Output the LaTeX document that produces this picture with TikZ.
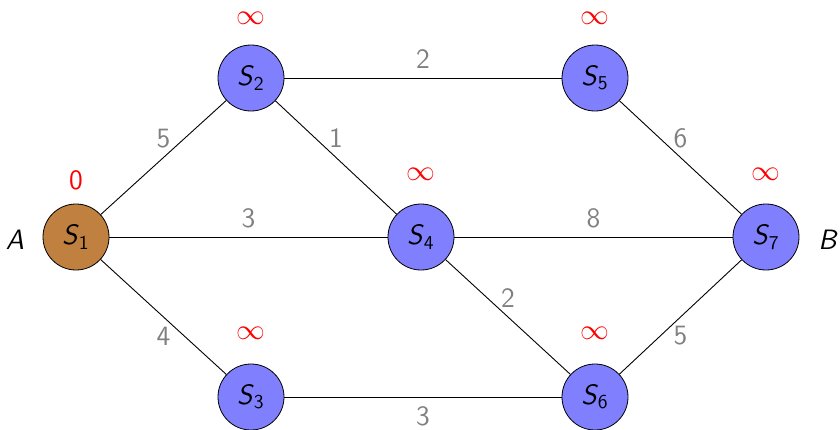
\documentclass[tikz,border=0pt]{standalone}
\usepackage{fontspec}
\begin{document}
\begin{tikzpicture}[x=0.5pt,y=-0.5pt,
  font=\sffamily\fontsize{14}{16}\selectfont,
  vert/.style={circle,draw=black,fill=blue!50,minimum size=33pt,inner sep=0pt},
  start/.style={vert,fill=brown},
  wt/.style={text=black!50},
  dist/.style={text=red,inner sep=0pt},
  edge/.style={draw=black,line width=0.45pt},
  up/.style={midway,yshift=9.5pt,wt},
  dn/.style={midway,yshift=-9.5pt,wt}]
\useasboundingbox (0,0) rectangle (840,429);
\node[start] (s1) at (76,237) {\textit{S}\textsubscript{1}};
\node[vert] (s2) at (251,78) {\textit{S}\textsubscript{2}};
\node[vert] (s3) at (251,397) {\textit{S}\textsubscript{3}};
\node[vert] (s4) at (421,237) {\textit{S}\textsubscript{4}};
\node[vert] (s5) at (595,78) {\textit{S}\textsubscript{5}};
\node[vert] (s6) at (595,397) {\textit{S}\textsubscript{6}};
\node[vert] (s7) at (766,237) {\textit{S}\textsubscript{7}};
\node (A) at (15,240) {\textit{A}};
\node (B) at (828,240) {\textit{B}};
\node[dist] (d1) at (76,180) {0};
\node[dist] (d2) at (251,18) {$\infty$};
\node[dist] (d5) at (595,18) {$\infty$};
\node[dist] (d4) at (421,174) {$\infty$};
\node[dist] (d7) at (766,174) {$\infty$};
\node[dist] (d3) at (251,333) {$\infty$};
\node[dist] (d6) at (595,333) {$\infty$};
\path[edge] (s1) -- node[up] (w12) {5} (s2);
\path[edge] (s1) -- node[up] (w14) {3} (s4);
\path[edge] (s1) -- node[dn] (w13) {4} (s3);
\path[edge] (s2) -- node[up] (w25) {2} (s5);
\path[edge] (s2) -- node[up] (w24) {1} (s4);
\path[edge] (s3) -- node[dn] (w36) {3} (s6);
\path[edge] (s4) -- node[up] (w47) {8} (s7);
\path[edge] (s4) -- node[up] (w46) {2} (s6);
\path[edge] (s5) -- node[up] (w57) {6} (s7);
\path[edge] (s6) -- node[dn] (w67) {5} (s7);
\end{tikzpicture}
\end{document}
